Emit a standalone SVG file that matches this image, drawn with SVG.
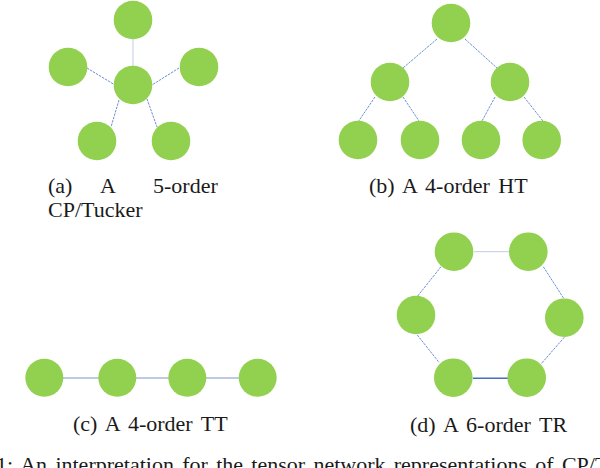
<svg xmlns="http://www.w3.org/2000/svg" width="600" height="468" viewBox="0 0 600 468">
<style>
.n{fill:#92d050}
.e{stroke:#4472c4;stroke-width:0.8;stroke-dasharray:2.5 1;fill:none}
.el{stroke:#c3cbe0;stroke-width:1;fill:none}
.ec{stroke:#a9b7de;stroke-width:1.3;fill:none}
.eb{stroke:#4a6dc0;stroke-width:1.4;fill:none}
text{font-family:"Liberation Serif","Times New Roman",serif;font-size:22px;fill:#1a1a1a}
</style>
<g id="connectors">
<line class="el" x1="133" y1="39" x2="133" y2="66"/>
<line class="e" x1="87" y1="68" x2="115" y2="85"/>
<line class="e" x1="179" y1="68" x2="152" y2="85"/>
<line class="e" x1="119" y1="100" x2="111" y2="127"/>
<line class="e" x1="147" y1="99" x2="157" y2="127"/>
<line class="e" x1="437" y1="39" x2="403" y2="68"/>
<line class="e" x1="465" y1="39" x2="497" y2="68"/>
<line class="e" x1="375" y1="97" x2="358" y2="122"/>
<line class="e" x1="403" y1="97" x2="419" y2="121"/>
<line class="e" x1="495" y1="97" x2="482" y2="121"/>
<line class="e" x1="524" y1="97" x2="543" y2="121"/>
<line class="ec" x1="63" y1="378" x2="99" y2="378"/>
<line class="ec" x1="136" y1="378" x2="169" y2="378"/>
<line class="ec" x1="206" y1="378" x2="239" y2="378"/>
<line class="el" x1="474" y1="251.7" x2="509" y2="251.7"/>
<line class="eb" x1="473" y1="378.3" x2="508" y2="378.3"/>
<line class="e" x1="441" y1="266.7" x2="416.7" y2="297.3"/>
<line class="e" x1="417.3" y1="335" x2="439.3" y2="362.7"/>
<line class="e" x1="543.3" y1="266.7" x2="564.3" y2="299.3"/>
<line class="e" x1="564.3" y1="337.3" x2="541" y2="364"/>
</g>
<g id="a-top"><circle class="n" cx="133" cy="20" r="19.3"/></g>
<g id="a-left"><circle class="n" cx="68" cy="67" r="19.3"/></g>
<g id="a-right"><circle class="n" cx="199" cy="67" r="19.3"/></g>
<g id="a-center"><circle class="n" cx="133" cy="85" r="19.3"/></g>
<g id="a-bl"><circle class="n" cx="97" cy="141" r="19.3"/></g>
<g id="a-br"><circle class="n" cx="171" cy="141" r="19.3"/></g>
<g id="b-top"><circle class="n" cx="451" cy="23" r="19.3"/></g>
<g id="b-ml"><circle class="n" cx="390" cy="82" r="19.3"/></g>
<g id="b-mr"><circle class="n" cx="510" cy="82" r="19.3"/></g>
<g id="b-l1"><circle class="n" cx="358" cy="140" r="19.3"/></g>
<g id="b-l2"><circle class="n" cx="420" cy="140" r="19.3"/></g>
<g id="b-l3"><circle class="n" cx="481" cy="140" r="19.3"/></g>
<g id="b-l4"><circle class="n" cx="541.7" cy="140" r="19.3"/></g>
<g id="c-1"><circle class="n" cx="44.3" cy="377.7" r="19"/></g>
<g id="c-2"><circle class="n" cx="117.3" cy="377.7" r="19"/></g>
<g id="c-3"><circle class="n" cx="187.3" cy="377.7" r="19"/></g>
<g id="c-4"><circle class="n" cx="257.7" cy="377.7" r="19"/></g>
<g id="d-tl"><circle class="n" cx="454" cy="251.7" r="19.3"/></g>
<g id="d-tr"><circle class="n" cx="528.3" cy="251.7" r="19.3"/></g>
<g id="d-l"><circle class="n" cx="416" cy="315" r="19.3"/></g>
<g id="d-r"><circle class="n" cx="564.3" cy="317.7" r="19.3"/></g>
<g id="d-bl"><circle class="n" cx="453.3" cy="377.7" r="19.3"/></g>
<g id="d-br"><circle class="n" cx="526.7" cy="377.7" r="19.3"/></g>
<g id="captions">
<text x="48" y="193">(a)</text>
<text x="100" y="193">A</text>
<text x="153" y="193">5-order</text>
<text x="48" y="217">CP/Tucker</text>
<text x="369" y="193" word-spacing="3">(b) A 4-order HT</text>
<text x="73" y="431" word-spacing="3">(c) A 4-order TT</text>
<text x="410" y="431.5" word-spacing="3">(d) A 6-order TR</text>
<text x="-4" y="472" word-spacing="2.8">1: An interpretation for the tensor network representations of CP/T</text>
</g>
</svg>
